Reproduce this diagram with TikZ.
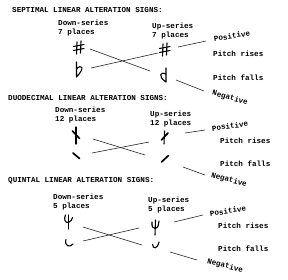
\documentclass[tikz,border=0pt]{standalone}
\usepackage{fontspec}
\setmainfont{Liberation Mono}[BoldFont={* Bold}]
\begin{document}
\begin{tikzpicture}[x=1pt,y=-1pt,
  lbl/.style={anchor=west,inner sep=0pt,font=\fontsize{7.6}{9}\selectfont\bfseries,align=left},
  ttl/.style={anchor=west,inner sep=0pt,font=\fontsize{7.6}{9}\selectfont\bfseries},
  rot/.style={inner sep=0pt,font=\fontsize{7.6}{9}\selectfont\bfseries},
  conn/.style={line width=0.6pt,black!85},
  sign/.style={line width=1.1pt,line cap=round,line join=round},
  thick sign/.style={line width=1.7pt,line cap=round}]
\useasboundingbox (0,0) rectangle (288,279);
\fill[white] (0,0) rectangle (288,279);

% ---------------- Section 1: Septimal ----------------
\node[ttl] (t1) at (12,10) {SEPTIMAL LINEAR ALTERATION SIGNS:};
\node[lbl] (d1) at (58,28) {Down-series\\7 places};
\node[lbl] (u1) at (152,31) {Up-series\\7 places};
% left sharp
\draw[sign] (77,42) -- (76.5,54) (81,41) -- (80.5,53);
\draw[sign] (73.5,46.5) -- (84,44.5) (73.5,50.5) -- (84,48.5);
% left flat
\draw[sign] (76.5,62) -- (76.5,77) (76.5,69) .. controls (81,64) and (86,67) .. (76.5,77);
% right sharp
\draw[sign] (163,44) -- (162.5,56) (167,43) -- (166.5,55);
\draw[sign] (159.5,48.5) -- (170,46.5) (159.5,52.5) -- (170,50.5);
% right reversed flat
\draw[sign] (166,68) -- (166,82) (166,74) .. controls (161,71) and (157,76) .. (166,82);
\coordinate (a1s) at (90,49); \coordinate (a1e) at (150,71);
\coordinate (b1s) at (91,68); \coordinate (b1e) at (158,53);
\draw[conn] (a1s) -- (a1e);
\draw[conn] (b1s) -- (b1e);
\node[rot,rotate=9] (p1) at (232,36) {Positive};
\node[lbl] (r1) at (213,54) {Pitch rises};
\node[lbl] (f1) at (213,78) {Pitch falls};
\node[rot,rotate=-16] (n1) at (230,98) {Negative};
\coordinate (ps1) at (178,47); \coordinate (pe1) at (206,41);
\coordinate (ns1) at (176,80); \coordinate (ne1) at (204,91);
\draw[conn] (ps1) -- (pe1);
\draw[conn] (ns1) -- (ne1);

% ---------------- Section 2: Duodecimal ----------------
\node[ttl] (t2) at (8,98) {DUODECIMAL LINEAR ALTERATION SIGNS:};
\node[lbl] (d2) at (55,115) {Down-series\\12 places};
\node[lbl] (u2) at (150,119) {Up-series\\12 places};
\draw[sign] (76,127) -- (76,144);
\draw[thick sign] (72.5,131) -- (79.5,138.5);
\draw[thick sign] (73,153) -- (79.5,158.5);
\draw[sign] (164.5,131) -- (164,144);
\draw[thick sign] (161.5,140) -- (168,133);
\draw[thick sign] (161.5,162) -- (168.5,155.5);
\coordinate (a2s) at (93,139); \coordinate (a2e) at (145,155);
\coordinate (b2s) at (92,153); \coordinate (b2e) at (149,142);
\draw[conn] (a2s) -- (a2e);
\draw[conn] (b2s) -- (b2e);
\node[rot,rotate=8] (p2) at (230,126) {Positive};
\node[lbl] (r2) at (220,141) {Pitch rises};
\node[lbl] (f2) at (220,164) {Pitch falls};
\node[rot,rotate=-15] (n2) at (229,180) {Negative};
\coordinate (ps2) at (185,133); \coordinate (pe2) at (205,130);
\coordinate (ns2) at (183,167); \coordinate (ne2) at (205,175);
\draw[conn] (ps2) -- (pe2);
\draw[conn] (ns2) -- (ne2);

% ---------------- Section 3: Quintal ----------------
\node[ttl] (t3) at (8,181) {QUINTAL LINEAR ALTERATION SIGNS:};
\node[lbl] (d3) at (53,202) {Down-series\\5 places};
\node[lbl] (u3) at (148,205) {Up-series\\5 places};
% left top psi-like
\draw[sign] (68.5,215) -- (68.5,229);
\draw[sign] (65.5,215) .. controls (63.5,219) and (65,223) .. (68.5,222.5) .. controls (71,222) and (72,219) .. (72.5,217.5);
% left bottom hook
\draw[sign] (66,239.5) .. controls (64,246) and (70,248) .. (73,244);
% right top psi
\draw[sign] (155.5,220) -- (155,235);
\draw[sign] (152,222) .. controls (151.5,227) and (153,228.5) .. (155.3,228.5) .. controls (158,228) and (159,224) .. (159,221);
% right bottom hook
\draw[sign] (152.5,244.5) .. controls (153,249.5) and (157.5,249) .. (159,242);
\coordinate (a3s) at (83,227); \coordinate (a3e) at (142,245);
\coordinate (b3s) at (83,241); \coordinate (b3e) at (139,228);
\draw[conn] (a3s) -- (a3e);
\draw[conn] (b3s) -- (b3e);
\node[rot,rotate=9] (p3) at (228,211) {Positive};
\node[lbl] (r3) at (218,226) {Pitch rises};
\node[lbl] (f3) at (218,249) {Pitch falls};
\node[rot,rotate=-14] (n3) at (225,266) {Negative};
\coordinate (ps3) at (174,222); \coordinate (pe3) at (203,215);
\coordinate (ns3) at (170,252); \coordinate (ne3) at (197,260);
\draw[conn] (ps3) -- (pe3);
\draw[conn] (ns3) -- (ne3);
\end{tikzpicture}
\end{document}
